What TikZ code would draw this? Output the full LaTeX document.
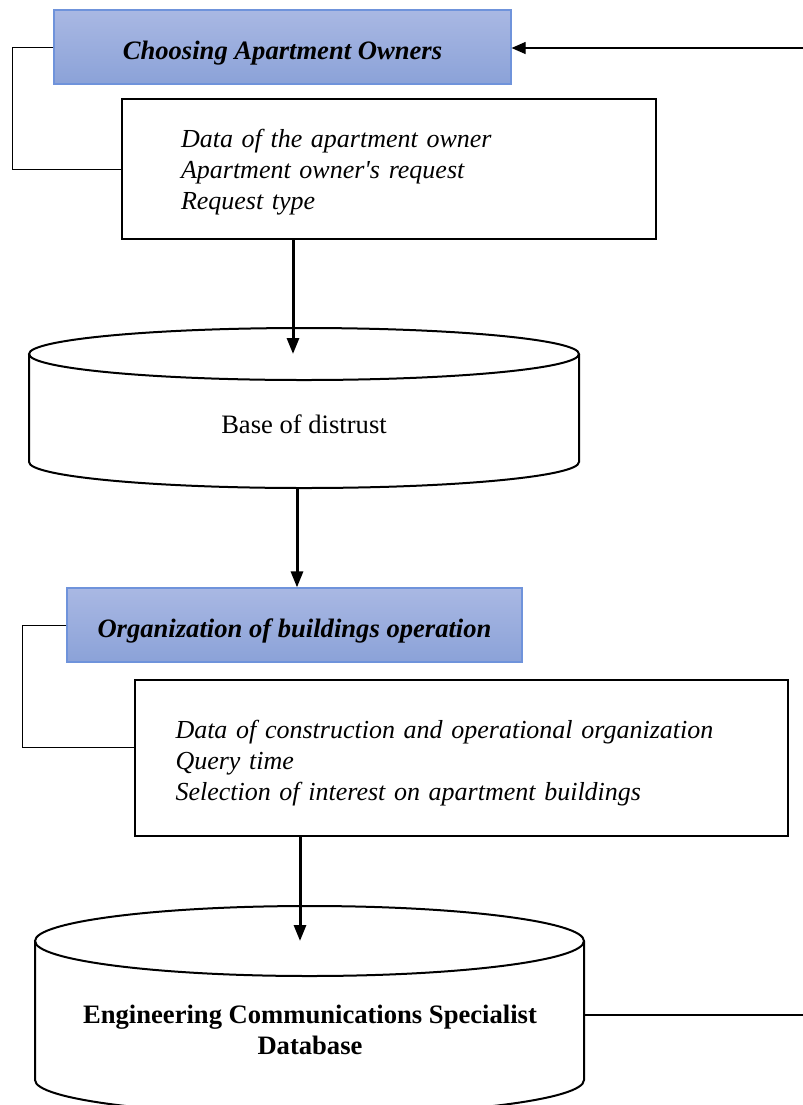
\documentclass[tikz,border=0pt]{standalone}
\usepackage{fontspec}
\setmainfont{Liberation Serif}
\usepackage{tikz}
\usetikzlibrary{arrows.meta, positioning, calc}
\definecolor{bluSopra}{HTML}{A9B8E3}
\definecolor{bluSotto}{HTML}{8BA2D8}
\definecolor{bluBordo}{HTML}{6F93DB}
\newcommand{\testo}{\fontsize{13.3}{15.5}\selectfont}
\newcommand{\testoDati}{\fontsize{13}{15.5}\selectfont}

\begin{document}
\begin{tikzpicture}[x = 0.5pt, y = -0.5pt,
    titolo/.style = {draw = bluBordo, line width = 0.6pt, top color = bluSopra, bottom color = bluSotto, minimum height = 37pt, inner sep = 0pt, text height = 12pt, text depth = 0pt, font = \testo\bfseries\itshape},
    dati/.style = {draw, line width = 1pt, fill = white, align = left, minimum height = 70pt, font = \testoDati\itshape},
    freccia/.style = {line width = 1.5pt, -{Triangle[length = 8pt, width = 6pt]}},
    staffa/.style = {line width = 0.5pt},
    cilindro/.style = {line width = 1pt}]
    % Area del disegno
    \useasboundingbox (0,0) rectangle (803,1105);
    \clip (0,0) rectangle (803,1105);
    
    % Scelta dei proprietari
    \node[titolo, minimum width = 228.5pt] (scelta) at (282.5,47){Choosing Apartment Owners};
    \node[dati, text width = 208pt, inner xsep = 29.5pt] (dati1) at (389,169){\rule{0pt}{12pt}Data of the apartment owner\\Apartment owner\textquotesingle s request\\Request type};
    % Staffa a sinistra
    \draw[staffa] (scelta.west) -- ++(-41,0) |- (dati1.west);
    % Freccia di ritorno
    \coordinate (ritorno) at (803,48);
    \draw[line width = 0.6pt, -{Triangle[length = 7pt, width = 6pt]}] (ritorno) -- (ritorno -| scelta.east);
    
    % Cilindro: base di sfiducia
    \draw[cilindro] (29,354) -- (29,462) arc[start angle = 180, end angle = 0, x radius = 275, y radius = 26] -- (579,354);
    \draw[cilindro] (304,354) ellipse[x radius = 275, y radius = 26];
    \node[font = \testo] (base) at (304,424){Base of distrust};
    \coordinate (db1in) at (293,354);
    \coordinate (db1out) at (297,488);
    \draw[freccia] (dati1.south -| db1in) -- (db1in);
    
    % Organizzazione
    \node[titolo, minimum width = 227.5pt] (org) at (294.5,625){Organization of buildings operation};
    \draw[freccia] (db1out) -- (db1out |- org.north);
    \node[dati, text width = 285.5pt, inner xsep = 20.5pt, minimum height = 78pt] (dati2) at (461,758){\rule{0pt}{14pt}Data of construction and operational organization\\Query time\\Selection of interest on apartment buildings};
    % Staffa a sinistra
    \draw[staffa] (org.west) -- ++(-44,0) |- ([yshift = 5.5pt]dati2.west);
    
    % Cilindro: database degli specialisti
    \draw[cilindro] (35,941) -- (35,1080) arc[start angle = 180, end angle = 0, x radius = 274.5, y radius = 35] -- (584,941);
    \draw[cilindro] (309.5,941) ellipse[x radius = 274.5, y radius = 35];
    \node[font = \testo\bfseries, align = center] (spec) at (310,1030){Engineering Communications Specialist\\Database};
    \coordinate (db2in) at (300,941);
    \draw[freccia] (dati2.south -| db2in) -- (db2in);
    % Uscita a destra
    \coordinate (db2out) at (584,1015);
    \coordinate (bordo) at (803,1015);
    \draw[line width = 0.6pt] (db2out) -- (bordo);
\end{tikzpicture}
\end{document}
